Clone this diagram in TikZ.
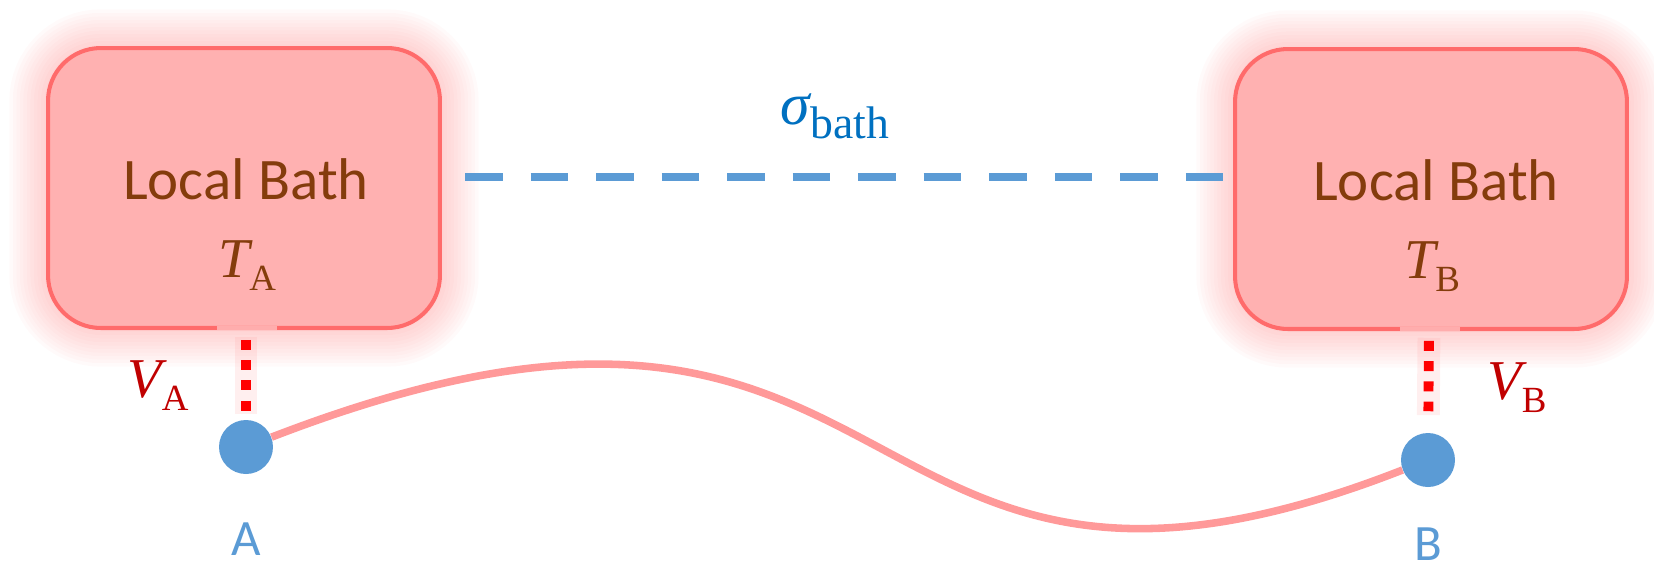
\documentclass[tikz,border=0pt]{standalone}
\usepackage{fontspec}
\setmainfont{Carlito}
\newfontfamily\serifm{Liberation Serif}
% symbol with upright subscript: size of subscript, letter, subscript
\newcommand{\symb}[3]{{\serifm\itshape #2}\raisebox{-0.24em}{\serifm\fontsize{#1}{#1}\selectfont #3}}
\definecolor{bathfill}{HTML}{FFB1B1}
\definecolor{bathline}{HTML}{FF6B6B}
\definecolor{bathglow}{HTML}{FF8585}
\definecolor{bathtext}{HTML}{843C0C}
\definecolor{sitecol}{HTML}{5B9BD5}
\definecolor{sigmacol}{HTML}{0070C0}
\definecolor{vcol}{HTML}{C00000}
\definecolor{chaincol}{HTML}{FF9999}
\tikzset{
  bath/.style={draw=bathline,fill=bathfill,line width=2.3pt,rounded corners=30pt,
    minimum width=7.84cm,minimum height=5.6cm,inner sep=0pt},
  site/.style={circle,fill=sitecol,minimum size=1.08cm,inner sep=0pt},
  bathlabel/.style={text=bathtext,font=\fontsize{33.5}{38}\selectfont,anchor=base,inner sep=0pt},
  templabel/.style={text=bathtext,font=\fontsize{32}{38}\selectfont,anchor=base,inner sep=0pt},
  vlabel/.style={text=vcol,font=\fontsize{32}{38}\selectfont,anchor=base,inner sep=0pt},
  sitelabel/.style={text=sitecol,font=\fontsize{29}{32}\selectfont,anchor=base,inner sep=0pt},
  couple/.style={red,line width=5.6pt,dash pattern=on 5.67pt off 5.84pt},
  coupleglow/.style={chaincol,opacity=0.16,line width=13pt},
  chain/.style={chaincol,line width=4.3pt},
  corr/.style={sitecol,line width=5pt,dash pattern=on 21.4pt off 15.9pt}
}
\begin{document}
\begin{tikzpicture}[x=0.02cm,y=-0.02cm]
\useasboundingbox (0,0) rectangle (1654,569);

% glow round the baths
\foreach \x/\y in {244/188,1431/189}
  \foreach \g in {4,8,...,44}
    \draw[bathglow,opacity=0.04,line width=\g pt,rounded corners=30pt]
      (\x-196,\y-140) rectangle (\x+196,\y+140);

\node[bath] (bathA) at (244,188) {};
\node[bath] (bathB) at (1431,189) {};
% lighter joints on the lower edges
\draw[chaincol!80,line width=2.3pt] (217,328) -- (277,328);
\draw[chaincol!80,line width=2.3pt] (1400,329) -- (1460,329);

\node[bathlabel] (nameA) at (246,199) {Local Bath};
\node[templabel] (tempA) at (247,277) {\symb{21}{T}{A}};
\node[bathlabel] (nameB) at (1436,200) {Local Bath};
\node[templabel] (tempB) at (1432,278) {\symb{21}{T}{B}};

\node[site] (dotA) at (246,447) {};
\node[site] (dotB) at (1428,460) {};
\node[sitelabel] (labA) at (246,555) {A};
\node[sitelabel] (labB) at (1428,560) {B};

\coordinate (topA) at (246,328);
\coordinate (topB) at (1429,329);

% couplings
\draw[coupleglow,shorten <=5pt,shorten >=3pt] (topA) -- (dotA);
\draw[coupleglow,shorten <=5pt,shorten >=10pt] (topB) -- (dotB);
\draw[couple,shorten <=6.8pt,shorten >=5pt] (topA) -- (dotA);
\draw[couple,shorten <=6.8pt,shorten >=12.2pt] (topB) -- (dotB);
\node[vlabel] (vA) at (158,397) {\symb{21}{V}{A}};
\node[vlabel] (vB) at (1517,399) {\symb{21}{V}{B}};

% chain between the sites
\draw[chain] (dotA) .. controls +(686,-265) and +(-600,235) .. (dotB);

% correlation of the baths
\coordinate (corrA) at (465,177);
\coordinate (corrB) at (1224,177);
\draw[corr] (corrA) -- (corrB);
\node[text=sigmacol,font=\fontsize{34}{38}\selectfont,anchor=base,inner sep=0pt] (sigma)
  at (835,124) {\symb{26}{σ}{bath}};
\end{tikzpicture}
\end{document}
